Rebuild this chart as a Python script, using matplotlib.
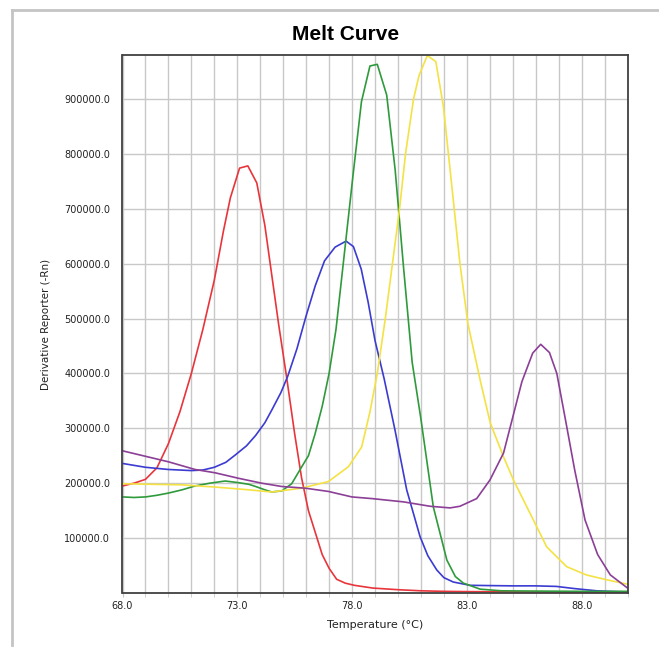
import numpy as np
import matplotlib
matplotlib.use("Agg")
import matplotlib.pyplot as plt
from matplotlib.ticker import MultipleLocator, FormatStrFormatter, FixedLocator
from matplotlib.lines import Line2D

# melt curve data, derivative values in thousands
red_t = [68.0, 68.5, 69.0, 69.5, 70.0, 70.5, 71.0, 71.5, 72.0, 72.4, 72.7, 73.1, 73.46, 73.85,
         74.2, 74.5, 74.8, 75.16, 75.5, 75.8, 76.1, 76.4, 76.7, 77.0, 77.33, 77.7, 78.1, 78.9,
         80.0, 81.0, 82.0, 83.0, 85.0, 88.0, 90.0]
red_v = [195, 200, 207, 228, 272, 330, 400, 480, 570, 660, 720, 774, 778, 747,
         670, 580, 490, 390, 290, 210, 150, 110, 70, 45, 25, 18, 14, 9,
         6, 4, 3, 2.5, 2, 1.5, 1.5]

blue_t = [68.0, 69.0, 70.0, 71.0, 71.5, 72.0, 72.5, 72.9, 73.4, 73.8, 74.2, 74.5, 74.9, 75.2,
          75.6, 76.0, 76.4, 76.8, 77.26, 77.74, 78.06, 78.4, 78.7, 79.0, 79.4, 79.87, 80.38,
          80.96, 81.3, 81.69, 82.0, 82.41, 83.14, 84.0, 85.0, 86.0, 86.9, 87.7, 88.66, 89.5, 90.0]
blue_v = [236, 229, 225, 223, 224, 229, 238, 251, 268, 287, 310, 333, 365, 395,
          445, 505, 560, 605, 630, 641, 631, 590, 530, 460, 390, 297, 188,
          103, 68, 42, 28, 20, 14, 13.5, 13, 13, 12, 8, 4, 2.5, 2]

green_t = [68.0, 68.5, 69.0, 69.5, 70.0, 70.6, 71.16, 71.8, 72.47, 73.05, 73.5, 73.8, 74.2,
           74.5, 74.94, 75.37, 75.81, 76.1, 76.39, 76.7, 77.0, 77.3, 77.67, 78.04,
           78.41, 78.78, 79.1, 79.51, 79.88, 80.25, 80.62, 80.99, 81.54, 82.13, 82.5, 82.85,
           83.58, 84.5, 86.0, 88.0, 90.0]
green_v = [175, 174, 175, 178, 182, 188, 195, 200, 204, 201, 198, 194, 188,
           184, 186, 199, 230, 250, 290, 340, 400, 480, 620, 760,
           895, 960, 963, 907, 770, 590, 420, 320, 157, 60, 30, 18,
           7, 4, 3.5, 3, 3]

yellow_t = [68.0, 70.58, 72.03, 73.48, 74.5, 75.81, 76.97, 77.84, 78.42, 78.78, 79.1, 79.45,
            79.76, 80.07, 80.33, 80.68, 80.92, 81.28, 81.65, 81.98, 82.35, 82.7, 83.05, 83.58,
            84.02, 84.6, 85.03, 85.9, 86.48, 87.35, 88.2, 89.1, 90.0]
yellow_v = [199, 197, 193, 188, 184, 191, 203, 230, 266, 330, 400, 500,
            600, 700, 800, 900, 943, 979, 968, 886, 740, 600, 490, 388,
            310, 248, 206, 133, 84, 48, 33, 24, 16]

purple_t = [68.0, 69.1, 70.0, 71.16, 72.03, 73.05, 74.07, 74.94, 75.95, 76.97, 77.99, 78.86,
            80.24, 81.4, 82.27, 82.7, 83.43, 84.01, 84.6, 85.0, 85.4, 85.87, 86.22, 86.6,
            86.92, 87.3, 87.7, 88.15, 88.7, 89.25, 89.97]
purple_v = [259, 248, 239, 225, 219, 209, 200, 194, 191, 185, 175, 172,
            166, 158, 155, 158, 172, 206, 255, 320, 385, 437, 453, 438,
            400, 315, 224, 133, 70, 33, 10]

series = [
    (red_t, red_v, '#e8353b'),
    (blue_t, blue_v, '#3b3bd2'),
    (green_t, green_v, '#2f9a3c'),
    (yellow_t, yellow_v, '#f4e244'),
    (purple_t, purple_v, '#8b3f96'),
]

x_labels = [68.0, 73.0, 78.0, 83.0, 88.0]
y_ticks = [100000, 200000, 300000, 400000, 500000, 600000, 700000, 800000, 900000]

W, H = 659, 655
fig = plt.figure(figsize=(W / 100, H / 100), dpi=100)
ax = fig.add_axes([122.5 / W, 62 / H, 505 / W, 538 / H])

for t, v, c in series:
    ax.plot(t, np.array(v) * 1000, color=c, lw=1.2)

ax.set_xlim(68, 90)
ax.set_ylim(0, 980000)
ax.xaxis.set_major_locator(FixedLocator(x_labels))
ax.xaxis.set_minor_locator(MultipleLocator(1))
ax.xaxis.set_major_formatter(FormatStrFormatter('%.1f'))
ax.yaxis.set_major_locator(FixedLocator(y_ticks))
ax.yaxis.set_major_formatter(FormatStrFormatter('%.1f'))

ax.grid(True, which='both', axis='x', color='#c8c8c8', lw=1)
ax.grid(True, which='major', axis='y', color='#c8c8c8', lw=1)
ax.set_axisbelow(True)
ax.tick_params(axis='both', which='both', length=3, color='#c8c8c8', labelsize=7,
               labelcolor='#222222')
ax.tick_params(axis='y', length=0, pad=9)
ax.tick_params(axis='x', pad=3)
for s in ax.spines.values():
    s.set_color('#404040')
    s.set_linewidth(1.3)

ax.set_xlabel('Temperature (°C)', fontsize=8, labelpad=6, color='#222222')
ax.set_ylabel('Derivative Reporter (-Rn)', fontsize=7.5, labelpad=9, color='#222222')
fig.text(346 / W, 1 - 35 / H, 'Melt Curve', ha='center', va='center', fontsize=15,
         fontweight='bold', family='Liberation Sans')

# outer light frame
fig.add_artist(Line2D([12 / W, 12 / W], [1 - 10 / H, 1 - 645 / H], transform=fig.transFigure,
                      color='#c4c4c4', lw=2))
fig.add_artist(Line2D([12 / W, 1.0], [1 - 10 / H, 1 - 10 / H], transform=fig.transFigure,
                      color='#c4c4c4', lw=2))

fig.savefig('out.png', dpi=100)
